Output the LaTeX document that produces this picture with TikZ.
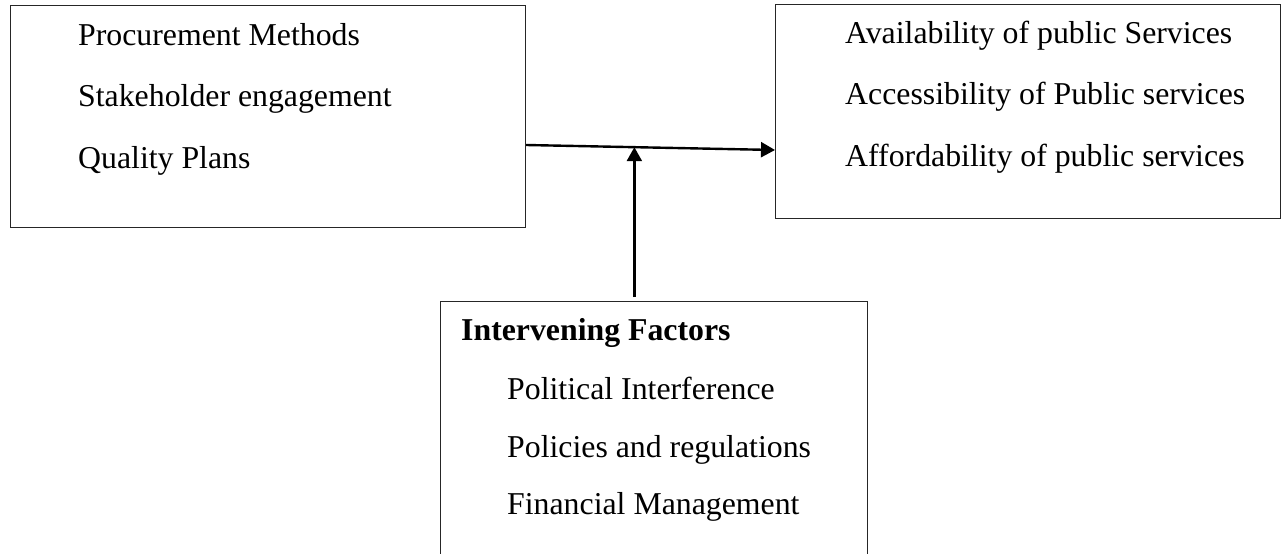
\documentclass[tikz,border=0pt]{standalone}
\usepackage{fontspec}
\setmainfont{Liberation Serif}
\usetikzlibrary{arrows.meta,calc}
\begin{document}
\begin{tikzpicture}[x=1pt,y=-1pt,
  boxframe/.style={draw=black!85, line width=1.1pt, inner sep=0pt},
  itemtext/.style={anchor=base west, inner sep=0pt, font=\fontsize{31.8}{38}\selectfont},
  conn/.style={line width=2.4pt, -{Triangle[length=14pt,width=15pt]}}]
\useasboundingbox (0,0) rectangle (1283,554);
\clip (0,0) rectangle (1283,554);
% boxes
\node[boxframe, minimum width=515pt, minimum height=222pt, anchor=north west] (L) at (10,5) {};
\node[boxframe, minimum width=505pt, minimum height=214pt, anchor=north west] (R) at (775,4) {};
\node[boxframe, minimum width=427pt, minimum height=280pt, anchor=north west] (B) at (440,301) {};
% left texts
\node[itemtext] (l1) at (78,45) {Procurement Methods};
\node[itemtext] (l2) at (78,106) {Stakeholder engagement};
\node[itemtext] (l3) at (78,168) {Quality Plans};
% right texts
\node[itemtext] (r1) at (845,43) {Availability of public Services};
\node[itemtext] (r2) at (845,104) {Accessibility of Public services};
\node[itemtext] (r3) at (845,166) {Affordability of public services};
% bottom texts
\node[itemtext, font=\fontsize{31.8}{38}\selectfont\bfseries] (b0) at (461,340) {Intervening Factors};
\node[itemtext] (b1) at (507,399) {Political Interference};
\node[itemtext] (b2) at (507,457) {Policies and regulations};
\node[itemtext] (b3) at (507,514) {Financial Management};
% connectors
\coordinate (hs) at (L.east |- 0,145);
\coordinate (he) at (R.west |- 0,150);
\coordinate (mid) at ($(hs)!0.435!(he)$);
\coordinate (vs) at (B.north -| mid);
\draw[conn] (hs) -- (he);
\draw[conn] ($(vs)+(0,-4)$) -- (mid);
\end{tikzpicture}
\end{document}
